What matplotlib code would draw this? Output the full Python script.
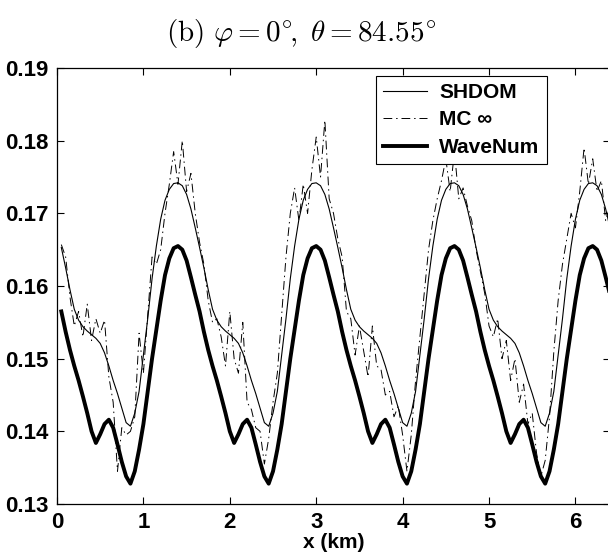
import numpy as np
import matplotlib
matplotlib.use('Agg')
import matplotlib.pyplot as plt

plt.rcParams['font.family'] = ['Liberation Sans', 'DejaVu Sans']
plt.rcParams['mathtext.fontset'] = 'cm'

# x positions (km), 0.05 .. 6.40
x = np.round(np.arange(1, 129) * 0.05, 2)

shdom = [
    0.1653, 0.1625, 0.1595, 0.1568, 0.1553, 0.1544, 0.1538, 0.1533, 0.1528, 0.1521,
    0.1508, 0.1490, 0.1470, 0.1452, 0.1432, 0.1412, 0.1407, 0.1425, 0.1455, 0.1505,
    0.1555, 0.1610, 0.1655, 0.1692, 0.1718, 0.1733, 0.1741, 0.1742, 0.1738, 0.1726,
    0.1706, 0.1680,
    0.1653, 0.1625, 0.1595, 0.1568, 0.1553, 0.1544, 0.1538, 0.1533, 0.1528, 0.1521,
    0.1508, 0.1490, 0.1470, 0.1452, 0.1432, 0.1412, 0.1407, 0.1425, 0.1455, 0.1505,
    0.1555, 0.1610, 0.1655, 0.1692, 0.1718, 0.1733, 0.1741, 0.1742, 0.1738, 0.1726,
    0.1706, 0.1680,
    0.1653, 0.1625, 0.1595, 0.1568, 0.1553, 0.1544, 0.1538, 0.1533, 0.1528, 0.1521,
    0.1508, 0.1490, 0.1470, 0.1452, 0.1432, 0.1412, 0.1407, 0.1425, 0.1455, 0.1505,
    0.1555, 0.1610, 0.1655, 0.1692, 0.1718, 0.1733, 0.1741, 0.1742, 0.1738, 0.1726,
    0.1706, 0.1680,
    0.1653, 0.1625, 0.1595, 0.1568, 0.1553, 0.1544, 0.1538, 0.1533, 0.1528, 0.1521,
    0.1508, 0.1490, 0.1470, 0.1452, 0.1432, 0.1412, 0.1407, 0.1425, 0.1455, 0.1505,
    0.1555, 0.1610, 0.1655, 0.1692, 0.1718, 0.1733, 0.1741, 0.1742, 0.1738, 0.1726,
    0.1706, 0.1680,
]

mc = [
    0.1657, 0.1640, 0.1585, 0.1545, 0.1565, 0.1530, 0.1575, 0.1525, 0.1555, 0.1535,
    0.1553, 0.1475, 0.1440, 0.1345, 0.1405, 0.1395, 0.1400, 0.1420, 0.1535, 0.1480,
    0.1560, 0.1640, 0.1630, 0.1650, 0.1700, 0.1740, 0.1785, 0.1740, 0.1800, 0.1730,
    0.1755, 0.1700,
    0.1660, 0.1630, 0.1580, 0.1550, 0.1555, 0.1530, 0.1490, 0.1565, 0.1500, 0.1480,
    0.1550, 0.1440, 0.1430, 0.1405, 0.1400, 0.1355, 0.1390, 0.1440, 0.1480, 0.1560,
    0.1640, 0.1700, 0.1735, 0.1690, 0.1740, 0.1700, 0.1760, 0.1805, 0.1750, 0.1828,
    0.1720, 0.1700,
    0.1665, 0.1640, 0.1565, 0.1555, 0.1505, 0.1545, 0.1510, 0.1475, 0.1545, 0.1490,
    0.1485, 0.1450, 0.1455, 0.1420, 0.1435, 0.1395, 0.1345, 0.1395, 0.1470, 0.1530,
    0.1590, 0.1650, 0.1690, 0.1720, 0.1745, 0.1775, 0.1730, 0.1785, 0.1720, 0.1735,
    0.1710, 0.1690,
    0.1650, 0.1620, 0.1590, 0.1545, 0.1530, 0.1555, 0.1500, 0.1525, 0.1470, 0.1500,
    0.1440, 0.1465, 0.1410, 0.1425, 0.1370, 0.1338, 0.1360, 0.1420, 0.1510, 0.1580,
    0.1630, 0.1665, 0.1700, 0.1680, 0.1730, 0.1790, 0.1740, 0.1775, 0.1730, 0.1745,
    0.1690, 0.1710,
]

wavenum = [
    0.1565, 0.1537, 0.1512, 0.1490, 0.1470, 0.1448, 0.1425, 0.1400, 0.1384, 0.1396,
    0.1410, 0.1416, 0.1405, 0.1382, 0.1358, 0.1338, 0.1328, 0.1345, 0.1375, 0.1410,
    0.1455, 0.1500, 0.1540, 0.1580, 0.1615, 0.1638, 0.1652, 0.1655, 0.1650, 0.1635,
    0.1612, 0.1588,
    0.1565, 0.1537, 0.1512, 0.1490, 0.1470, 0.1448, 0.1425, 0.1400, 0.1384, 0.1396,
    0.1410, 0.1416, 0.1405, 0.1382, 0.1358, 0.1338, 0.1328, 0.1345, 0.1375, 0.1410,
    0.1455, 0.1500, 0.1540, 0.1580, 0.1615, 0.1638, 0.1652, 0.1655, 0.1650, 0.1635,
    0.1612, 0.1588,
    0.1565, 0.1537, 0.1512, 0.1490, 0.1470, 0.1448, 0.1425, 0.1400, 0.1384, 0.1396,
    0.1410, 0.1416, 0.1405, 0.1382, 0.1358, 0.1338, 0.1328, 0.1345, 0.1375, 0.1410,
    0.1455, 0.1500, 0.1540, 0.1580, 0.1615, 0.1638, 0.1652, 0.1655, 0.1650, 0.1635,
    0.1612, 0.1588,
    0.1565, 0.1537, 0.1512, 0.1490, 0.1470, 0.1448, 0.1425, 0.1400, 0.1384, 0.1396,
    0.1410, 0.1416, 0.1405, 0.1382, 0.1358, 0.1338, 0.1328, 0.1345, 0.1375, 0.1410,
    0.1455, 0.1500, 0.1540, 0.1580, 0.1615, 0.1638, 0.1652, 0.1655, 0.1650, 0.1635,
    0.1612, 0.1588,
]

xticks = [0, 1, 2, 3, 4, 5, 6]
yticks = [0.13, 0.14, 0.15, 0.16, 0.17, 0.18, 0.19]

fig = plt.figure(figsize=(6.08, 5.57), dpi=100)
ax = fig.add_axes([57 / 608, 1 - 504 / 557, 553 / 608, 436 / 557])

ax.plot(x, shdom, color='black', lw=0.8, label='SHDOM')
ax.plot(x, mc, color='black', lw=0.7, linestyle=(0, (9, 4, 1.5, 4)), label='MC ∞')
ax.plot(x, wavenum, color='black', lw=2.8, label='WaveNum')

ax.set_xlim(0, 6.4)
ax.set_ylim(0.13, 0.19)
ax.set_xticks(xticks)
ax.set_yticks(yticks)
ax.set_yticklabels(['%.2f' % v for v in yticks])
ax.tick_params(direction='in', length=5, width=0.8, top=True, right=True,
               labelsize=16, pad=6)
for lab in ax.get_xticklabels() + ax.get_yticklabels():
    lab.set_fontweight('bold')
for s in ax.spines.values():
    s.set_linewidth(0.9)

ax.set_xlabel('x (km)', fontsize=15, fontweight='bold', labelpad=0)
fig.text(0.495, 1 - 33 / 557,
         r'$\mathrm{(b)}\ \varphi = 0^{\circ}\!,\ \theta = 84.55^{\circ}$',
         ha='center', va='center', fontsize=21)

leg = ax.legend(loc='upper right', bbox_to_anchor=(0.886, 0.982),
                borderaxespad=0, fancybox=False, framealpha=1,
                edgecolor='black', handlelength=2.1, handletextpad=0.6,
                labelspacing=0.4, borderpad=0.35,
                prop={'size': 15, 'weight': 'bold'})
leg.get_frame().set_linewidth(0.8)

fig.savefig('out.png', dpi=100)
